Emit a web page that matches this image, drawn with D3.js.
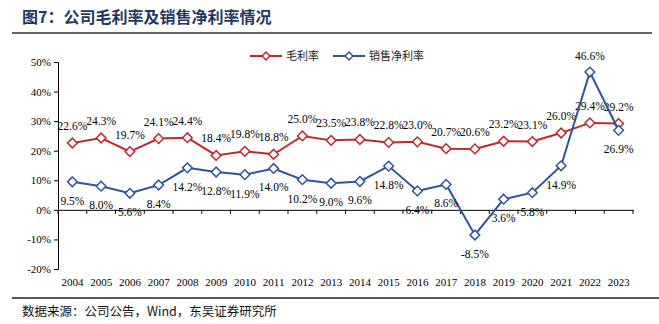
<!DOCTYPE html>
<html><head><meta charset="utf-8">
<script src="https://cdn.jsdelivr.net/npm/d3@7"></script>
<style>body{margin:0;background:#fff}svg{display:block}
.serif{font-family:"Liberation Serif","Times New Roman",serif}</style>
</head><body>
<svg id="c" width="659" height="324"></svg>
<script>
const years = ["2004","2005","2006","2007","2008","2009","2010","2011","2012","2013","2014","2015","2016","2017","2018","2019","2020","2021","2022","2023"];
const grossMargin = [22.6,24.3,19.7,24.1,24.4,18.4,19.8,18.8,25.0,23.5,23.8,22.8,23.0,20.7,20.6,23.2,23.1,26.0,29.4,29.2];
const netMargin = [9.5,8.0,5.6,8.4,14.2,12.8,11.9,14.0,10.2,9.0,9.6,14.8,6.4,8.6,-8.5,3.6,5.8,14.9,46.6,26.9];
const yTicks = [-20,-10,0,10,20,30,40,50];
const seriesNames = ["毛利率","销售净利率"];
const colors = ["#C0282C","#2F5597"];

const svg = d3.select("#c");
const cjk = "'Noto Sans CJK SC',sans-serif";

// title
svg.append("text").attr("x",22).attr("y",23).attr("font-family",cjk).attr("font-weight","bold")
  .attr("font-size",16).attr("fill","#1F3864").text("图7：公司毛利率及销售净利率情况");
svg.append("line").attr("x1",12).attr("x2",652).attr("y1",33).attr("y2",33).attr("stroke","#333").attr("stroke-width",1.5);
// footer
svg.append("line").attr("x1",12).attr("x2",659).attr("y1",298).attr("y2",298).attr("stroke","#222").attr("stroke-width",1.3);
svg.append("text").attr("x",22).attr("y",316).attr("font-family",cjk).attr("font-size",12.5).attr("fill","#111")
  .text("数据来源：公司公告，Wind，东吴证券研究所");

const x = d3.scaleBand().domain(years).range([58,633]);
const y = d3.scaleLinear().domain([-20,50]).range([269,62]);

// y axis
const ya = svg.append("g").attr("transform","translate(58,0)")
  .call(d3.axisLeft(y).tickValues(yTicks).tickSize(4).tickFormat(d=>d+"%"));
ya.attr("font-family",null).attr("font-size",null);
ya.select(".domain").attr("stroke","#000");
ya.selectAll("text").attr("class","serif").attr("font-size",11).attr("fill","#000");
// x axis at zero
const xa = svg.append("g").attr("transform",`translate(0,${y(0)})`)
  .call(d3.axisBottom(x).tickSize(0).tickFormat(""));
xa.select(".domain").attr("stroke","#000");
xa.selectAll(".tick").remove();
const bounds = years.map((d)=>x(d)).concat([x.range()[1]]);
svg.append("g").selectAll("line").data(bounds).join("line")
  .attr("x1",d=>d).attr("x2",d=>d).attr("y1",y(0)).attr("y2",y(0)+4).attr("stroke","#000");
svg.append("g").selectAll("text").data(years).join("text").attr("class","serif")
  .attr("x",d=>x(d)+x.bandwidth()/2).attr("y",286).attr("text-anchor","middle")
  .attr("font-size",11).text(d=>d);

const cx = (i)=>x(years[i])+x.bandwidth()/2;
const diamond = d3.symbol().type(d3.symbolDiamond2).size(60);
function drawSeries(vals,color,labelPos){
  svg.append("path").datum(vals).attr("fill","none").attr("stroke",color).attr("stroke-width",2)
    .attr("d",d3.line().x((d,i)=>cx(i)).y(d=>y(d)));
  svg.append("g").selectAll("path").data(vals).join("path")
    .attr("d",diamond).attr("transform",(d,i)=>`translate(${cx(i)},${y(d)})`)
    .attr("fill","#fff").attr("stroke",color).attr("stroke-width",1.5);
  svg.append("g").selectAll("text").data(vals).join("text").attr("class","serif")
    .attr("x",(d,i)=>cx(i)).attr("y",(d,i)=>y(d)+labelPos(i))
    .attr("text-anchor","middle").attr("font-size",11.5).attr("fill","#000")
    .text(d=>d.toFixed(1)+"%");
}
drawSeries(grossMargin,colors[0],()=>-13);
drawSeries(netMargin,colors[1],(i)=>netMargin[i]===d3.max(netMargin)?-12:23);

// legend
const leg = [{x:250,t:seriesNames[0],c:colors[0]},{x:333,t:seriesNames[1],c:colors[1]}];
leg.forEach(l=>{
  svg.append("line").attr("x1",l.x).attr("x2",l.x+32).attr("y1",56).attr("y2",56).attr("stroke",l.c).attr("stroke-width",2);
  svg.append("path").attr("d",d3.symbol().type(d3.symbolDiamond2).size(40)).attr("transform",`translate(${l.x+16},56)`)
    .attr("fill","#fff").attr("stroke",l.c).attr("stroke-width",1.5);
  svg.append("text").attr("x",l.x+36).attr("y",60).attr("font-family",cjk).attr("font-size",11).attr("fill","#222").text(l.t);
});
</script>
</body></html>
